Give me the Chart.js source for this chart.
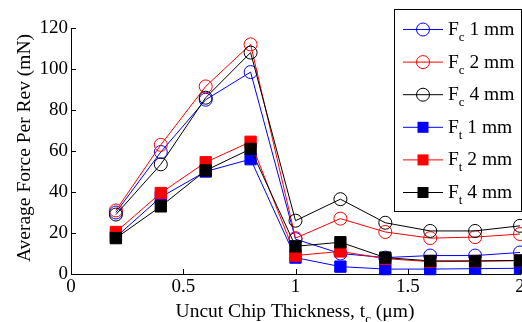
<!DOCTYPE html>
<html><head><meta charset="utf-8">
<script src="https://cdn.jsdelivr.net/npm/chart.js@4.4.1/dist/chart.umd.min.js"></script>
<style>html,body{margin:0;padding:0;background:#fff;}#wrap{width:522px;height:322px;}</style>
</head><body><div id="wrap"><canvas id="c" width="522" height="322"></canvas></div>
<script>
const xValues = [0.2,0.4,0.6,0.8,1.0,1.2,1.4,1.6,1.8,2.0];
const fc1 = [30,59.5,85,98.5,17,10,8,9,9,10.5];
const fc2 = [31,63,91.5,112,17.5,27,20.5,17.5,18,19.5];
const fc4 = [29,53.5,86,108,26,36.5,25,21,21,23.5];
const ft1 = [18,37.5,50,56,8,3.6,2.4,2.4,2.6,2.8];
const ft2 = [20.5,39.5,54.5,64.5,9,11,7.5,6,6.2,6.5];
const ft4 = [17.5,33,50.5,61,13.5,15.5,8,6.4,6.4,6.6];
const xTicks = [0,0.5,1,1.5,2];
const yTicks = [0,20,40,60,80,100,120];
const legendNames = [['F','c',' 1 mm'],['F','c',' 2 mm'],['F','c',' 4 mm'],['F','t',' 1 mm'],['F','t',' 2 mm'],['F','t',' 4 mm']];

const FONT = "'Liberation Serif','Times New Roman',serif";
const BIG = '19.5px ';
const SUB = '13px ';
const BLUE='#0000ff', RED='#ff0000', BLK='#000000';
function pts(arr){return xValues.map((x,i)=>({x:x,y:arr[i]}));}
function ds(data,color,filled,ord){
  return {data:pts(data),borderColor:color,borderWidth:1,
    pointStyle:filled?'rect':'circle',pointRadius:filled?8:6.5,
    pointBackgroundColor:filled?color:'rgba(0,0,0,0)',pointBorderColor:color,pointBorderWidth:1,
    pointHoverRadius:filled?8:6.5,tension:0,fill:false,order:ord,clip:false};
}
const sets = [ds(fc1,BLUE,false,6),ds(fc2,RED,false,5),ds(fc4,BLK,false,4),ds(ft1,BLUE,true,3),ds(ft2,RED,true,2),ds(ft4,BLK,true,1)];
const colors=[BLUE,RED,BLK,BLUE,RED,BLK];
const filledArr=[false,false,false,true,true,true];

const deco = {
  id:'deco',
  afterDraw(chart){
    const ctx=chart.ctx, xs=chart.scales.x, ys=chart.scales.y, a=chart.chartArea;
    ctx.save();
    ctx.strokeStyle='#000'; ctx.lineWidth=1;
    xTicks.forEach(v=>{const p=Math.round(xs.getPixelForValue(v))+0.5;ctx.beginPath();ctx.moveTo(p,a.bottom);ctx.lineTo(p,a.bottom-5);ctx.stroke();});
    yTicks.forEach(v=>{const p=Math.round(ys.getPixelForValue(v))+0.5;ctx.beginPath();ctx.moveTo(a.left,p);ctx.lineTo(a.left+5,p);ctx.stroke();});
    // x tick labels
    ctx.fillStyle='#000'; ctx.font='19px '+FONT; ctx.textAlign='center'; ctx.textBaseline='top';
    xTicks.forEach(v=>{ctx.fillText(String(v), xs.getPixelForValue(v), a.bottom+4);});
    // x title
    ctx.textBaseline='alphabetic'; ctx.textAlign='left';
    const s1='Uncut Chip Thickness, t', s3=' (\u03bcm)';
    ctx.font=SUB+FONT; const wsub=ctx.measureText('c').width;
    ctx.font=BIG+FONT;
    const w1=ctx.measureText(s1).width, w3=ctx.measureText(s3).width;
    let x0=295-(w1+wsub+w3)/2, by=317;
    ctx.fillText(s1,x0,by);
    ctx.font=SUB+FONT; ctx.fillText('c',x0+w1,by+6);
    ctx.font=BIG+FONT; ctx.fillText(s3,x0+w1+wsub,by);
    // y title
    ctx.save(); ctx.translate(30,148); ctx.rotate(-Math.PI/2);
    ctx.textAlign='center'; ctx.font=BIG+FONT;
    ctx.fillText('Average Force Per Rev (mN)',0,0);
    ctx.restore();
    // legend
    const L=394.5,T=9.5,R=521.5,B=211.5;
    ctx.fillStyle='#fff'; ctx.fillRect(L,T,R-L,B-T);
    ctx.strokeStyle='#000'; ctx.strokeRect(L,T,R-L,B-T);
    legendNames.forEach((n,i)=>{
      const y=29.5+i*32.6, c=colors[i];
      ctx.strokeStyle=c; ctx.lineWidth=1;
      ctx.beginPath(); ctx.moveTo(403,y); ctx.lineTo(443,y); ctx.stroke();
      if(filledArr[i]){ctx.fillStyle=c; ctx.fillRect(417.5,y-5.5,11,11);}
      else {ctx.beginPath(); ctx.arc(423,y,6.5,0,Math.PI*2); ctx.stroke();}
      ctx.fillStyle='#000'; ctx.textAlign='left'; ctx.textBaseline='alphabetic';
      ctx.font=BIG+FONT; ctx.fillText(n[0],448,y+5.5);
      const wf=ctx.measureText(n[0]).width;
      ctx.font=SUB+FONT; ctx.fillText(n[1],448+wf,y+11.5);
      const wc=ctx.measureText(n[1]).width;
      ctx.font=BIG+FONT; ctx.fillText(n[2],448+wf+wc,y+5.5);
    });
    ctx.restore();
  }
};

new Chart(document.getElementById('c'),{
  type:'line',
  data:{datasets:sets},
  options:{
    responsive:false,animation:false,devicePixelRatio:1,
    layout:{autoPadding:false,padding:{top:28,right:2,left:0,bottom:0}},
    plugins:{legend:{display:false},tooltip:{enabled:false}},
    scales:{
      x:{type:'linear',min:0,max:2,
        afterBuildTicks(s){s.ticks=xTicks.map(v=>({value:v}));},
        afterFit(s){s.height=48;s.paddingLeft=0;s.paddingRight=0;},
        grid:{display:false,drawTicks:false},
        border:{display:true,color:'#000',width:1},
        ticks:{display:false}},
      y:{type:'linear',min:0,max:120,
        afterBuildTicks(s){s.ticks=yTicks.map(v=>({value:v}));},
        afterFit(s){s.width=71;s.paddingTop=0;s.paddingBottom=0;},
        grid:{display:false,drawTicks:false},
        border:{display:true,color:'#000',width:1},
        ticks:{color:'#000',font:{family:FONT,size:19},padding:3,autoSkip:false,callback:v=>String(v)}}
    }
  },
  plugins:[deco]
});
</script></body></html>
